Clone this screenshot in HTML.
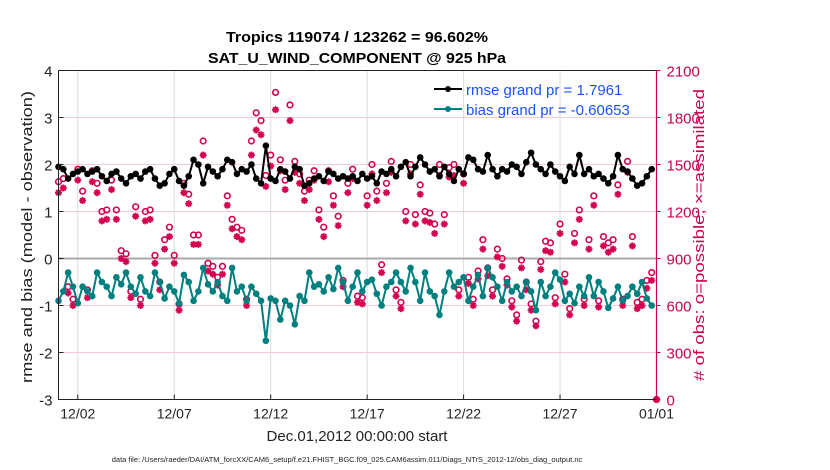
<!DOCTYPE html>
<html><head><meta charset="utf-8"><style>
body{margin:0;background:#fff;}
svg{display:block;font-family:"Liberation Sans",sans-serif;}
</style></head><body>
<svg id="chart" width="830" height="470" viewBox="0 0 830 470" xmlns="http://www.w3.org/2000/svg">
<text x="357" y="42" text-anchor="middle" font-size="15" font-weight="bold" textLength="262" lengthAdjust="spacingAndGlyphs">Tropics 119074 / 123262 = 96.602%</text>
<text x="357" y="63" text-anchor="middle" font-size="15" font-weight="bold" textLength="298" lengthAdjust="spacingAndGlyphs">SAT_U_WIND_COMPONENT @ 925 hPa</text>
<g id="grid"></g>
<g id="marks"></g>
<g id="axes"></g>
<text transform="translate(32,237) rotate(-90)" text-anchor="middle" font-size="15" fill="#222" textLength="292" lengthAdjust="spacingAndGlyphs">rmse and bias (model - observation)</text>
<text transform="translate(704,235) rotate(-90)" text-anchor="middle" font-size="15" fill="#cc0052" textLength="292" lengthAdjust="spacingAndGlyphs"># of obs: o=possible; ×=assimilated</text>
<text x="357" y="441" text-anchor="middle" font-size="15" fill="#222">Dec.01,2012 00:00:00 start</text>
<text x="347" y="462" text-anchor="middle" font-size="7.5" fill="#222">data file: /Users/raeder/DAI/ATM_forcXX/CAM6_setup/f.e21.FHIST_BGC.f09_025.CAM6assim.011/Diags_NTrS_2012-12/obs_diag_output.nc</text>
<g>
<line x1="434" y1="89" x2="462" y2="89" stroke="#000" stroke-width="2"/><circle cx="448" cy="89" r="3" fill="#000"/>
<text x="466" y="95" font-size="15" fill="#1a50ff">rmse grand pr = 1.7961</text>
<line x1="434" y1="109" x2="462" y2="109" stroke="#007f7f" stroke-width="2"/><circle cx="448" cy="109" r="3" fill="#007f7f"/>
<text x="466" y="115" font-size="15" fill="#1a50ff">bias grand pr = -0.60653</text>
</g>
</svg>
<script>
const rmse=[1.95,1.9,1.7,1.8,1.85,1.9,1.8,1.85,1.9,1.75,1.65,1.8,1.85,1.7,1.6,1.75,1.8,1.7,1.85,1.9,
1.7,1.55,1.6,1.8,1.9,1.65,1.55,1.75,2.1,2.0,1.6,1.95,1.85,1.75,1.9,2.1,2.05,1.8,1.9,1.85,
2.0,1.7,1.6,2.4,1.7,1.65,1.9,1.85,1.7,1.95,1.9,1.55,1.6,1.7,1.75,1.65,1.85,1.8,1.7,1.75,
1.7,1.75,1.65,1.8,1.7,1.75,1.6,1.85,1.8,1.9,1.75,1.95,2.05,1.75,1.95,2.15,2.0,1.85,1.9,1.75,
1.95,1.8,1.65,1.9,1.8,2.15,2.1,1.9,1.85,2.2,1.9,1.75,1.9,1.85,2.0,1.95,1.8,2.05,2.25,2.0,
1.9,1.8,2.0,1.85,1.75,1.65,1.95,1.8,2.2,1.8,1.9,1.75,1.8,1.7,1.6,1.75,2.2,1.9,1.85,1.7,
1.55,1.6,1.75,1.9];
const bias=[-0.9,-0.7,-0.3,-0.6,-0.95,-0.6,-0.7,-0.8,-0.3,-0.5,-0.6,-0.8,-0.4,-0.55,-0.3,-0.6,-0.75,-0.4,-0.7,-0.8,
-0.3,-0.5,-0.85,-0.6,-0.7,-0.95,-0.35,-0.5,-0.9,-0.7,-0.2,-0.55,-0.7,-0.5,-0.8,-0.9,-0.2,-0.7,-0.6,-0.9,
-0.6,-0.75,-0.9,-1.75,-0.85,-0.9,-1.3,-0.9,-1.0,-1.4,-0.8,-0.9,-0.3,-0.6,-0.55,-0.7,-0.4,-0.65,-0.2,-0.5,
-0.9,-0.6,-0.3,-0.7,-0.5,-0.45,-0.75,-1.0,-0.6,-0.5,-0.3,-0.5,-0.7,-0.2,-0.5,-0.9,-0.3,-0.7,-0.8,-1.2,
-0.7,-0.3,-0.6,-0.5,-0.4,-0.9,-0.6,-0.35,-0.8,-0.2,-0.4,-0.6,-0.9,-0.5,-0.7,-0.6,-0.8,-0.5,-0.7,-1.1,
-0.5,-0.8,-0.6,-0.3,-0.45,-0.9,-0.75,-0.95,-0.6,-0.8,-0.4,-0.8,-0.5,-0.7,-1.05,-0.85,-0.6,-0.9,-0.8,-0.6,
-0.75,-0.5,-0.85,-1.0];
const obsPossible=[1390,1410,720,640,1470,1330,700,1460,1380,1200,1210,1400,1210,950,930,690,1230,640,1200,1210,
920,750,1020,1100,920,610,1380,1310,1050,1050,1650,870,850,780,850,1300,1150,1100,1080,640,
1650,1830,1780,1430,1560,1960,1530,1400,1880,1520,1440,1330,1400,1460,1210,1100,1460,1300,1170,760,
1380,1470,660,650,1300,1500,1330,860,1380,1520,700,620,1200,1500,1180,1370,1200,1190,1120,1500,
1180,1480,1500,700,1440,780,640,820,1020,840,700,960,900,770,630,540,890,750,610,500,
880,1010,1000,650,1120,800,580,1060,1210,640,1020,1300,630,1040,1000,1020,1370,640,1520,1040,
620,640,760,810,0];
const obsAssim=[1320,1350,680,600,1400,1270,650,1390,1320,1140,1150,1340,1150,900,880,650,1170,600,1140,1150,
870,700,960,1040,870,570,1320,1250,990,990,1560,820,800,730,800,1240,1090,1040,1020,600,
1560,1720,1690,1360,1490,1850,1460,1340,1780,1450,1380,1270,1340,1400,1150,1040,1390,1240,1110,720,
1320,1410,620,610,1240,1440,1270,810,1320,1450,660,580,1140,1440,1120,1310,1140,1130,1060,1430,
1120,1420,1430,660,1380,740,600,770,960,790,660,910,850,730,590,500,840,700,570,470,
830,950,940,610,1060,750,540,1000,1150,600,960,1240,590,980,940,960,1310,600,1450,980,
580,600,710,760,0];
const yTicks=[-3,-2,-1,0,1,2,3,4];
const rTicks=[0,300,600,900,1200,1500,1800,2100];
const xTickLabels=["12/02","12/07","12/12","12/17","12/22","12/27","01/01"];
const xTickDays=[1,6,11,16,21,26,31];

const NS="http://www.w3.org/2000/svg";
const L=58.5,R=656.5,T=70.5,B=399.5;
const xDay=d=>L+(R-L)*d/31;
const xIdx=i=>xDay(i/4);
const yL=v=>B-(v+3)/7*(B-T);
const yR=v=>B-v/2100*(B-T);
function mk(tag,attrs,parent){const e=document.createElementNS(NS,tag);for(const k in attrs)e.setAttribute(k,attrs[k]);parent.appendChild(e);return e;}
const grid=document.getElementById('grid'),marks=document.getElementById('marks'),axes=document.getElementById('axes');

xTickDays.forEach((d,i)=>{
 const g=mk('line',{x1:xDay(d),x2:xDay(d),y1:T,y2:B,stroke:'#dcdcdc','stroke-width':1},grid);
 
 
 const t=mk('text',{x:xDay(d),y:B+19,'text-anchor':'middle','font-size':14,fill:'#222'},axes);
 t.textContent=xTickLabels[i];
 
 
 mk('line',{x1:xDay(d),x2:xDay(d),y1:B,y2:B-5,stroke:'#222'},axes);
});
rTicks.forEach(v=>{
 const g=mk('line',{x1:L,x2:R,y1:yR(v),y2:yR(v),stroke:'#f3c8d8','stroke-width':1},grid);
 
 
 const t=mk('text',{x:R+10,y:yR(v)+6,'font-size':15,fill:'#cc0052'},axes);
 t.textContent=v;
 
 
 mk('line',{x1:R,x2:R+4,y1:yR(v),y2:yR(v),stroke:'#cc0052'},axes);
});
yTicks.forEach(v=>{
 const t=mk('text',{x:L-6,y:yL(v)+6,'text-anchor':'end','font-size':15,fill:'#222'},axes);
 t.textContent=v;
 
 
 mk('line',{x1:L,x2:L+5,y1:yL(v),y2:yL(v),stroke:'#222'},axes);
});
const z=mk('line',{x1:L,x2:R,y1:yL(0),y2:yL(0),stroke:'#aaa','stroke-width':2},grid);



obsPossible.forEach((v,i)=>{
 const c=mk('circle',{cx:xIdx(i),cy:yR(v),r:2.8,fill:'none',stroke:'#d4004f','stroke-width':1.6},marks);
 
 
});
obsAssim.forEach((v,i)=>{
 const x=xIdx(i),y=yR(v),s=3.5;
 const g=mk('path',{d:`M${x-s} ${y}H${x+s}M${x} ${y-s}V${y+s}M${x-s*0.7} ${y-s*0.7}L${x+s*0.7} ${y+s*0.7}M${x-s*0.7} ${y+s*0.7}L${x+s*0.7} ${y-s*0.7}`,stroke:'#d4004f','stroke-width':1.8},marks);
 
 
});
function series(arr,color,name){
 const p=mk('polyline',{points:arr.map((v,i)=>xIdx(i)+','+yL(v)).join(' '),fill:'none',stroke:color,'stroke-width':2},marks);
 
 
 arr.forEach((v,i)=>{
  const c=mk('circle',{cx:xIdx(i),cy:yL(v),r:3.3,fill:color},marks);
  
  
 });
}
series(bias,'#007f7f','bias');
series(rmse,'#000','rmse');

mk('path',{d:`M${L} ${T}H${R}M${L} ${T}V${B}H${R}`,fill:'none',stroke:'#222','stroke-width':1},axes);
mk('line',{x1:R,x2:R,y1:T,y2:B,stroke:'#cc0052','stroke-width':1.2},axes);
</script>
</body></html>
